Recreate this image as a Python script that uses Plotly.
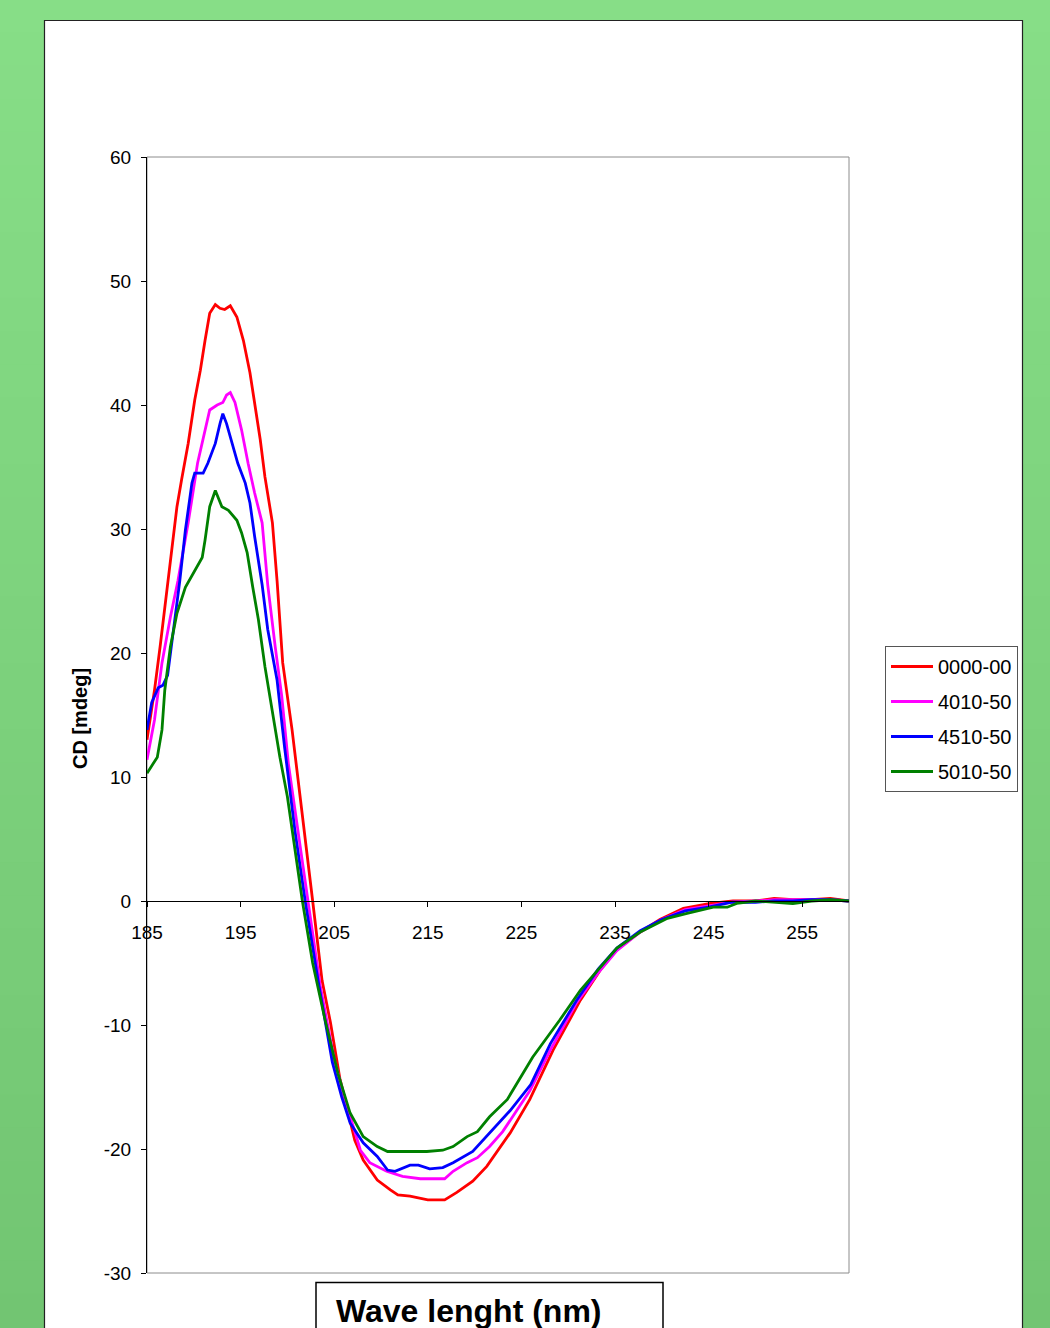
import plotly.graph_objects as go

# ---- data (wavelength nm, CD mdeg) ----
x_0000_00 = [185, 185.8, 186.4, 187.1, 187.5, 188.2, 188.7, 189.4, 190.1, 190.7, 191.2, 191.7, 192.3, 192.8,
             193.3, 193.9, 194.6, 195.3, 196, 196.5, 197.1, 197.6, 198.4, 198.9, 199.5, 200.5, 201.6, 202.7,
             203.7, 204.6, 205.6, 206.4, 207.2, 208.1, 209.6, 211, 211.8, 213.1, 215, 216.8, 218.1, 219.8,
             221.3, 223.8, 225.9, 228.4, 231.3, 233.4, 235.2, 237.7, 239.8, 242.3, 244, 245.2, 247.6, 250,
             252, 254, 256, 258, 260]
y_0000_00 = [13, 17, 20.5, 25, 27.7, 31.8, 34, 36.9, 40.4, 42.8, 45.2, 47.4, 48.1, 47.8,
             47.7, 48, 47.1, 45.2, 42.6, 40.2, 37.2, 34.2, 30.5, 25.8, 19.2, 13.8, 7.1, 0,
             -6.4, -9.8, -14.3, -16.9, -19.3, -20.9, -22.5, -23.3, -23.7, -23.8, -24.1, -24.1, -23.5, -22.6,
             -21.4, -18.7, -16, -12, -8, -5.6, -3.9, -2.5, -1.5, -0.6, -0.4, -0.2, 0, 0,
             0.2, 0.1, 0.1, 0.2, 0]

x_4010_50 = [185, 185.8, 186.6, 187.5, 188.3, 189.4, 190.4, 191.2, 191.7, 192.5, 193.1, 193.5, 193.9, 194.4,
             195.1, 195.8, 196.5, 197.3, 197.9, 198.7, 199.4, 200.1, 201.1, 202.2, 203.5, 205, 206.4, 207.8,
             208.8, 210.6, 212.3, 214.2, 216.8, 217.7, 219.2, 220.3, 221.6, 223, 224.5, 225.9, 228.1, 230.9,
             233.2, 235.2, 237.7, 240, 242.5, 245, 247.5, 250, 252, 254, 256, 258, 260]
y_4010_50 = [11.4, 14.6, 19.2, 22.9, 25.8, 30.5, 35.3, 38, 39.6, 40, 40.2, 40.8, 41, 40.2,
             38, 35.3, 32.9, 30.5, 25.5, 20.5, 16.5, 11.1, 5.7, 0, -6.8, -12.8, -16.6, -20.1,
             -21.1, -21.8, -22.2, -22.4, -22.4, -21.8, -21.1, -20.7, -19.8, -18.6, -16.9, -15.3, -12, -8.2,
             -5.8, -4, -2.5, -1.5, -0.7, -0.4, -0.1, 0, 0.1, 0.1, 0.1, 0.1, 0]

x_4510_50 = [185, 185.5, 186.2, 186.7, 187.2, 187.7, 188.2, 188.5, 189.1, 189.8, 190.1, 191, 191.5, 192.3,
             192.8, 193.1, 193.5, 194.1, 194.7, 195.5, 196, 196.5, 197.3, 197.9, 198.9, 199.7, 200.8, 201.9,
             203.3, 204.8, 205.8, 206.7, 208.1, 209.6, 210.7, 211.5, 213.1, 214, 215.2, 216.6, 217.7, 219.8,
             221.6, 223.8, 226, 228.1, 230.9, 233.2, 235.2, 237.7, 240, 242.5, 245, 247.5, 250, 252,
             254, 256, 258, 260]
y_4510_50 = [13.8, 16, 17.2, 17.4, 18.2, 21, 23.7, 25.8, 29.9, 33.7, 34.5, 34.5, 35.3, 36.9,
             38.5, 39.3, 38.5, 36.9, 35.3, 33.7, 32.1, 29.4, 25.5, 21.9, 17.8, 12.4, 5.7, 0,
             -6.5, -13, -15.8, -17.9, -19.5, -20.6, -21.7, -21.8, -21.3, -21.3, -21.6, -21.5, -21.1, -20.2,
             -18.7, -16.9, -14.8, -11.5, -8, -5.5, -3.8, -2.4, -1.5, -0.8, -0.5, -0.1, -0.1, 0,
             0, 0.1, 0.1, 0]

x_5010_50 = [185, 186.1, 186.6, 186.9, 187.5, 188.2, 189.1, 190, 190.9, 191.2, 191.7, 192.3, 193, 193.7,
             194.6, 195.1, 195.7, 196.3, 196.9, 197.6, 198.5, 199.2, 200, 200.5, 201.6, 202.7, 204, 205.4,
             206.7, 208.1, 209.6, 210.7, 212.5, 214.9, 216.6, 217.7, 219.2, 220.3, 221.6, 223.5, 226.2, 229.1,
             231.3, 233.4, 235.2, 237.7, 240.6, 242.7, 245.5, 247, 248, 250, 252, 254, 256, 258, 260]
y_5010_50 = [10.3, 11.6, 13.8, 17, 20.5, 23.2, 25.3, 26.5, 27.7, 29.1, 31.8, 33.1, 31.8, 31.5,
             30.7, 29.7, 28.1, 25.3, 22.7, 18.9, 14.6, 11.6, 8.4, 5.7, 0, -5, -9.5, -13.9,
             -17.1, -19, -19.8, -20.2, -20.2, -20.2, -20.1, -19.8, -19, -18.6, -17.4, -16, -12.6, -9.6,
             -7.2, -5.4, -3.8, -2.5, -1.4, -1, -0.5, -0.5, -0.2, 0, -0.1, -0.2, 0, 0.1, 0]

series_names = ["0000-00", "4010-50", "4510-50", "5010-50"]
series_x = [x_0000_00, x_4010_50, x_4510_50, x_5010_50]
series_y = [y_0000_00, y_4010_50, y_4510_50, y_5010_50]
series_colors = ["#FF0000", "#FF00FF", "#0000FF", "#008000"]

y_tickvals = [-30, -20, -10, 0, 10, 20, 30, 40, 50, 60]
y_ticktext = ["-30", "-20", "-10", "0", "10", "20", "30", "40", "50", "60"]
x_tickvals = [185, 195, 205, 215, 225, 235, 245, 255]
x_ticktext = ["185", "195", "205", "215", "225", "235", "245", "255"]

FONT = "Liberation Sans, Arial, sans-serif"

# ---- geometry (pixels) ----
W, H = 1050, 1328
L, R, T, B = 147, 849, 157, 1273
pw, ph = R - L, B - T


def px(xp):
    return (xp - L) / pw


def py(yp):
    return (B - yp) / ph


fig = go.Figure()
for n, xs, ys, c in zip(series_names, series_x, series_y, series_colors):
    fig.add_trace(go.Scatter(x=xs, y=ys, mode="lines", name=n, legendgroup=n,
                             line=dict(color=c, width=2.8)))

shapes = []
# green gradient background
top_c = (135, 222, 135)
bot_c = (114, 197, 114)
nb = 40
for k in range(nb):
    y0p = H * k / nb
    y1p = H * (k + 1) / nb
    t = (k + 0.5) / nb
    col = tuple(round(top_c[j] + (bot_c[j] - top_c[j]) * t) for j in range(3))
    shapes.append(dict(type="rect", xref="paper", yref="paper", layer="below",
                       x0=px(-2), x1=px(W + 2), y0=py(y1p + 1), y1=py(y0p - 1),
                       fillcolor="rgb(%d,%d,%d)" % col, line=dict(width=0)))
# white panel
shapes.append(dict(type="rect", xref="paper", yref="paper", layer="below",
                   x0=px(44.5), x1=px(1022.5), y0=py(1345), y1=py(20.5),
                   fillcolor="white", line=dict(color="#222222", width=1.2)))
# plot area frame
shapes.append(dict(type="rect", xref="paper", yref="paper", layer="below",
                   x0=0, x1=1, y0=0, y1=1, fillcolor="white",
                   line=dict(color="#8c8c8c", width=1)))
# x-title box
shapes.append(dict(type="rect", xref="paper", yref="paper", layer="above",
                   x0=px(316), x1=px(663), y0=py(1345), y1=py(1282.5),
                   fillcolor="white", line=dict(color="black", width=1.5)))

annotations = [
    dict(text="<b>Wave lenght (nm)</b>", xref="paper", yref="paper",
         x=px(334), y=py(1311), xanchor="left", yanchor="middle", showarrow=False,
         font=dict(family=FONT, size=32, color="black")),
    dict(text="<b>CD [mdeg]</b>", xref="paper", yref="paper", textangle=-90,
         x=px(80), y=py(719), xanchor="center", yanchor="middle", showarrow=False,
         font=dict(family=FONT, size=20, color="black")),
]

fig.update_layout(
    width=W, height=H,
    margin=dict(l=L, r=W - R, t=T, b=H - B),
    paper_bgcolor="rgb(135,222,135)",
    plot_bgcolor="white",
    font=dict(family=FONT, size=19, color="black"),
    shapes=shapes,
    annotations=annotations,
    showlegend=True,
    legend=dict(x=px(885), y=py(646), xanchor="left", yanchor="top",
                bgcolor="white", bordercolor="#555555", borderwidth=1,
                font=dict(family=FONT, size=20, color="black"),
                tracegroupgap=6, traceorder="grouped",
                itemwidth=42),
    xaxis=dict(range=[185, 260], tickvals=x_tickvals, ticktext=x_ticktext,
               showgrid=False, zeroline=False,
               showline=True, linecolor="black", linewidth=1,
               ticks="outside", ticklen=5, tickcolor="black",
               ticklabelstandoff=9,
               anchor="free", position=py(901), tickfont=dict(size=19)),
    yaxis=dict(range=[-30, 60], tickvals=y_tickvals, ticktext=y_ticktext,
               showgrid=False, zeroline=False,
               showline=True, linecolor="black", linewidth=1,
               ticks="outside", ticklen=5, tickcolor="black",
               ticklabelstandoff=6, tickfont=dict(size=19)),
)

fig.write_html("out.html")
